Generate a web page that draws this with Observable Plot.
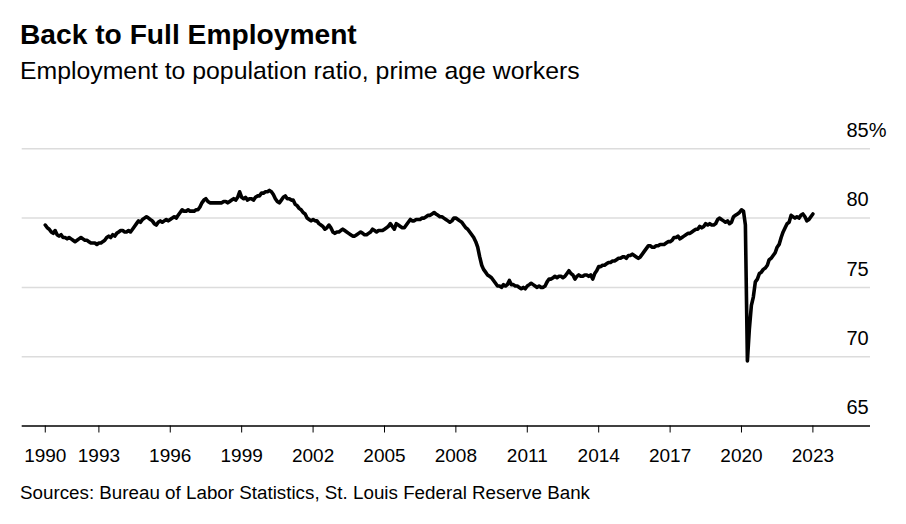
<!DOCTYPE html>
<html><head><meta charset="utf-8">
<script src="https://cdn.jsdelivr.net/npm/d3@7"></script>
<script src="https://cdn.jsdelivr.net/npm/@observablehq/plot@0.6"></script>
<style>
body{margin:0;background:#fff;font-family:"Liberation Sans",Arial,sans-serif;}
#wrap{position:relative;width:906px;height:524px;overflow:hidden;}
.t{position:absolute;left:20px;white-space:nowrap;line-height:1;color:#000}
#title{top:20px;font-size:28.2px;font-weight:bold}
#sub{top:59px;font-size:24.8px}
#cap{top:484px;font-size:18.8px}
#chart{position:absolute;left:0;top:95px}
</style></head>
<body><div id="wrap">
<div class="t" id="title">Back to Full Employment</div>
<div class="t" id="sub">Employment to population ratio, prime age workers</div>
<div id="chart"></div>
<div class="t" id="cap">Sources: Bureau of Labor Statistics, St. Louis Federal Reserve Bank</div>
</div>
<script>
// Monthly prime-age employment-to-population ratio (%), starting October 1990
const ratio1990s = [
  79.5, 79.3, 79.2,
  79.0, 78.9, 79.1, 78.8, 78.7, 78.8, 78.6, 78.6, 78.5, 78.6, 78.5, 78.4,
  78.3, 78.4, 78.5, 78.6, 78.5, 78.4, 78.4, 78.3, 78.2, 78.2, 78.2, 78.1,
  78.2, 78.2, 78.3, 78.4, 78.6, 78.7, 78.6, 78.8, 78.7, 78.9, 79.0, 79.1,
  79.1, 79.0, 79.0, 79.1, 79.0, 79.2, 79.4, 79.6, 79.8, 79.7, 79.9, 80.0,
  80.1, 80.0, 79.9, 79.8, 79.6, 79.5, 79.7, 79.8, 79.7, 79.8, 79.9, 79.8,
  79.9, 80.0, 80.1, 80.0, 80.2, 80.4, 80.6, 80.5, 80.5, 80.6, 80.5, 80.5,
  80.5, 80.6, 80.6, 80.8, 81.1, 81.3, 81.4, 81.2, 81.1, 81.1, 81.1, 81.1,
  81.1, 81.1, 81.1, 81.2, 81.2, 81.1, 81.2, 81.3, 81.4, 81.3, 81.5, 81.9,
  81.5, 81.4, 81.5, 81.3, 81.4, 81.4, 81.3, 81.5, 81.6, 81.6, 81.8, 81.8
];
const ratio2000s = [
  81.9, 81.9, 82.0, 81.9, 81.7, 81.4, 81.2, 81.1, 81.3, 81.5, 81.6, 81.4,
  81.4, 81.3, 81.3, 81.0, 80.9, 80.7, 80.6, 80.4, 80.3, 80.0, 79.9, 79.8,
  79.9, 79.8, 79.8, 79.6, 79.5, 79.4, 79.2, 79.3, 79.5, 79.3, 79.0, 78.9,
  79.0, 79.0, 79.1, 79.2, 79.1, 79.0, 78.9, 78.8, 78.7, 78.7, 78.8, 78.9,
  79.0, 78.9, 78.8, 78.8, 78.9, 79.0, 79.2, 79.1, 79.0, 79.1, 79.1, 79.1,
  79.2, 79.3, 79.4, 79.6, 79.4, 79.2, 79.6, 79.5, 79.4, 79.3, 79.3, 79.5,
  79.7, 79.9, 79.8, 79.8, 79.9, 79.9, 79.9, 80.0, 80.0, 80.1, 80.2, 80.2,
  80.3, 80.4, 80.3, 80.2, 80.1, 80.1, 80.0, 79.9, 79.8, 79.7, 79.8, 80.0,
  80.0, 79.9, 79.8, 79.7, 79.5, 79.3, 79.2, 79.0, 78.8, 78.6, 78.3, 77.9,
  77.2, 76.6, 76.3, 76.1, 75.9, 75.8, 75.7, 75.5, 75.3, 75.1, 75.1, 75.0
];
const ratio2010s = [
  75.2, 75.1, 75.2, 75.5, 75.2, 75.2, 75.1, 75.1, 75.0, 74.9, 75.0, 74.9,
  75.1, 75.2, 75.3, 75.2, 75.1, 75.0, 75.1, 75.0, 75.0, 75.1, 75.4, 75.6,
  75.6, 75.7, 75.8, 75.7, 75.8, 75.8, 75.7, 75.8, 76.0, 76.2, 76.0, 75.9,
  75.6, 75.8, 75.9, 75.8, 75.8, 75.9, 75.9, 75.8, 75.9, 75.6, 76.0, 76.2,
  76.5, 76.5, 76.6, 76.6, 76.7, 76.8, 76.8, 76.9, 76.9, 77.0, 77.1, 77.1,
  77.2, 77.2, 77.1, 77.3, 77.3, 77.4, 77.3, 77.2, 77.1, 77.2, 77.4, 77.6,
  77.8, 78.0, 78.0, 77.9, 77.9, 78.0, 78.0, 78.1, 78.1, 78.1, 78.2, 78.3,
  78.3, 78.4, 78.6, 78.6, 78.7, 78.5, 78.6, 78.7, 78.8, 78.9, 78.9, 79.0,
  79.1, 79.2, 79.2, 79.4, 79.3, 79.4, 79.6, 79.5, 79.6, 79.5, 79.5, 79.6,
  79.9, 80.0, 79.9, 79.8, 79.7, 79.8, 79.6, 79.7, 80.1, 80.2, 80.3, 80.4
];
const ratio2020s = [
  80.6, 80.5, 79.5, 69.7, 72.0, 73.7, 74.3, 75.4, 75.6, 76.0, 76.1, 76.3,
  76.4, 76.6, 77.0, 77.1, 77.3, 77.5, 77.9, 78.1, 78.6, 79.0, 79.3, 79.6,
  79.7, 80.2, 80.1, 80.0, 80.1, 80.0, 80.2, 80.3, 80.1, 79.8, 79.9, 80.1,
  80.3
];
const tickYears = [1990, 1993, 1996, 1999, 2002, 2005, 2008, 2011, 2014, 2017, 2020, 2023];
const yTicks = [85, 80, 75, 70, 65];
const yTickLabels = ["85%", "80", "75", "70", "65"];
const gridValues = [85, 80, 75, 70];

const values = [...ratio1990s, ...ratio2000s, ...ratio2010s, ...ratio2020s];
const data = values.map((v, i) => ({date: new Date(Date.UTC(1990, 9 + i, 1)), value: v}));
const xTicks = tickYears.map((y, i) => i === 0 ? data[0].date : new Date(Date.UTC(y, 0, 1)));

const chart = Plot.plot({
  width: 906,
  height: 375,
  marginLeft: 21.7,
  marginRight: 36,
  marginTop: 53.3,
  marginBottom: 44.5,
  style: {fontFamily: "'Liberation Sans', Arial, sans-serif", fontSize: "19px", color: "#000", background: "#fff", overflow: "visible"},
  x: {type: "utc", domain: [new Date(Date.UTC(1989, 9, 12)), new Date(Date.UTC(2025, 5, 3))], axis: null},
  y: {domain: [65, 85], axis: null},
  marks: [
    Plot.ruleY(gridValues, {stroke: "#dcdcdc", strokeWidth: 1.5}),
    Plot.ruleY([65], {stroke: "#000", strokeWidth: 1.3}),
    Plot.axisX({ticks: xTicks, tickFormat: d3.utcFormat("%Y"), tickSize: 7, tickPadding: 15, stroke: "#000", fill: "#000", fontSize: 19}),
    Plot.text(yTicks, {y: d => d, text: (d, i) => yTickLabels[i], frameAnchor: "right", textAnchor: "start", dx: -24, dy: -18.3, fontSize: 20, fill: "#000"}),
    Plot.line(data, {x: "date", y: "value", stroke: "#000", strokeWidth: 3.6, strokeLinejoin: "round", strokeLinecap: "round"})
  ]
});
document.getElementById("chart").appendChild(chart);
</script>
</body></html>
